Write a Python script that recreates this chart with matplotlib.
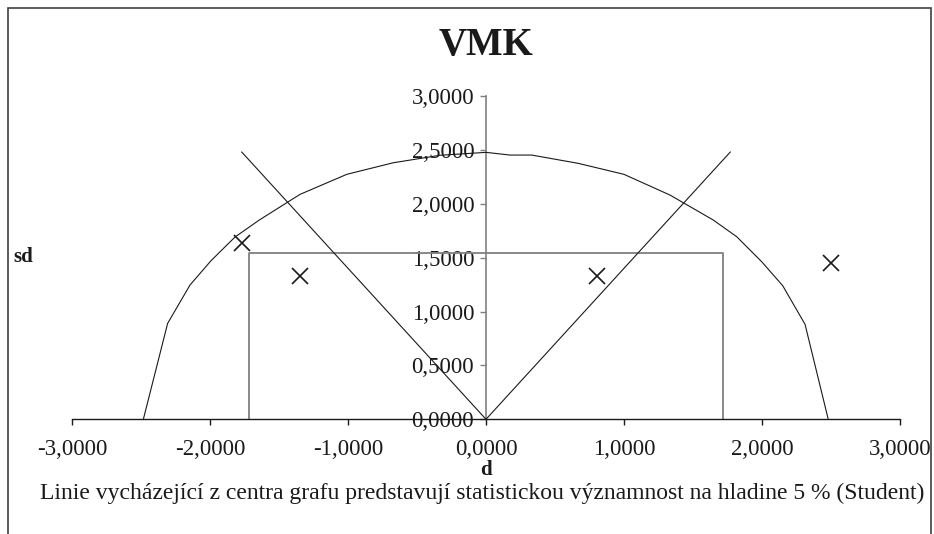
import matplotlib
matplotlib.use("Agg")
import matplotlib.pyplot as plt
from matplotlib.patches import Rectangle
from matplotlib.ticker import FuncFormatter, MultipleLocator

# kritická hranice (polokruh)
curve_d = [-2.483, -2.307, -2.145, -1.993, -1.82, -1.643, -1.348, -1.009, -0.674, -0.333, 0.0,
           0.174, 0.331, 0.669, 1.0, 1.333, 1.647, 1.817, 1.998, 2.15, 2.312, 2.48]
curve_sd = [0.0, 0.89, 1.246, 1.471, 1.69, 1.849, 2.087, 2.273, 2.38, 2.45, 2.477,
            2.452, 2.452, 2.375, 2.273, 2.081, 1.849, 1.694, 1.462, 1.24, 0.881, 0.0]

# linie z centra grafu (Student, 5 %)
sig_d = [-1.77, 0.0, 1.77]
sig_sd = [2.48, 0.0, 2.48]

# obdélník
rect_d = [-1.716, -1.716, 1.716, 1.716]
rect_sd = [0.0, 1.545, 1.545, 0.0]

# naměřené body
pts_d = [-1.766, -1.348, 0.807, 2.5]
pts_sd = [1.633, 1.332, 1.332, 1.447]

plt.rcParams['font.family'] = ['Liberation Serif', 'DejaVu Serif']

fig = plt.figure(figsize=(9.34, 5.34), dpi=100)
ax = fig.add_axes([72 / 934, 1 - 419.3 / 534, 828 / 934, 323.3 / 534])

ax.plot(rect_d, rect_sd, color='#808080', lw=1.3, zorder=2)
ax.plot(curve_d, curve_sd, color='#1a1a1a', lw=0.8, zorder=3)
ax.plot(sig_d, sig_sd, color='#1a1a1a', lw=0.8, zorder=3)
ax.plot(pts_d, pts_sd, ls='none', marker='x', ms=11, mew=1.2, color='#1a1a1a', zorder=4)

ax.set_xlim(-3, 3)
ax.set_ylim(0, 3)
ax.xaxis.set_major_locator(MultipleLocator(1))
ax.yaxis.set_major_locator(MultipleLocator(0.5))
fmt = FuncFormatter(lambda v, p: f"{v:.4f}".replace('.', ',').replace('-0,0000', '0,0000'))
ax.xaxis.set_major_formatter(fmt)
ax.yaxis.set_major_formatter(fmt)

ax.spines['top'].set_visible(False)
ax.spines['right'].set_visible(False)
ax.spines['left'].set_position(('data', 0))
ax.spines['left'].set_color('#808080')
ax.spines['left'].set_linewidth(1.2)
ax.spines['bottom'].set_color('#1a1a1a')
ax.spines['bottom'].set_linewidth(1.0)
ax.spines['left'].set_zorder(1)
ax.patch.set_visible(False)

ax.tick_params(axis='x', direction='out', length=4.5, width=1.0, color='#1a1a1a',
               labelsize=16.5, pad=10, labelcolor='#1a1a1a')
ax.tick_params(axis='y', direction='out', length=4.5, width=1.0, color='#808080',
               labelsize=16.5, pad=4, labelcolor='#1a1a1a')

fig.text(486 / 934, 1 - 46 / 534, 'VMK', ha='center', va='center',
         fontsize=28, fontweight='bold', color='#1a1a1a')
fig.text(13 / 934, 1 - 262 / 534, 'sd', ha='left', va='baseline',
         fontsize=15, fontweight='bold', color='#1a1a1a')
fig.text(486 / 934, 1 - 475 / 534, 'd', ha='center', va='baseline',
         fontsize=15, fontweight='bold', color='#1a1a1a')
fig.text(482 / 934, 1 - 499 / 534,
         'Linie vycházející z centra grafu predstavují statistickou významnost na hladine 5 % (Student)',
         ha='center', va='baseline', fontsize=17, color='#1a1a1a')

# rámeček grafu
fig.patches.append(Rectangle((8 / 934, -0.05), (931 - 8) / 934, 1.05 - 7.5 / 534,
                             transform=fig.transFigure, fill=False,
                             edgecolor='#404040', lw=1.2, clip_on=False))

fig.savefig('out.png', dpi=100)
